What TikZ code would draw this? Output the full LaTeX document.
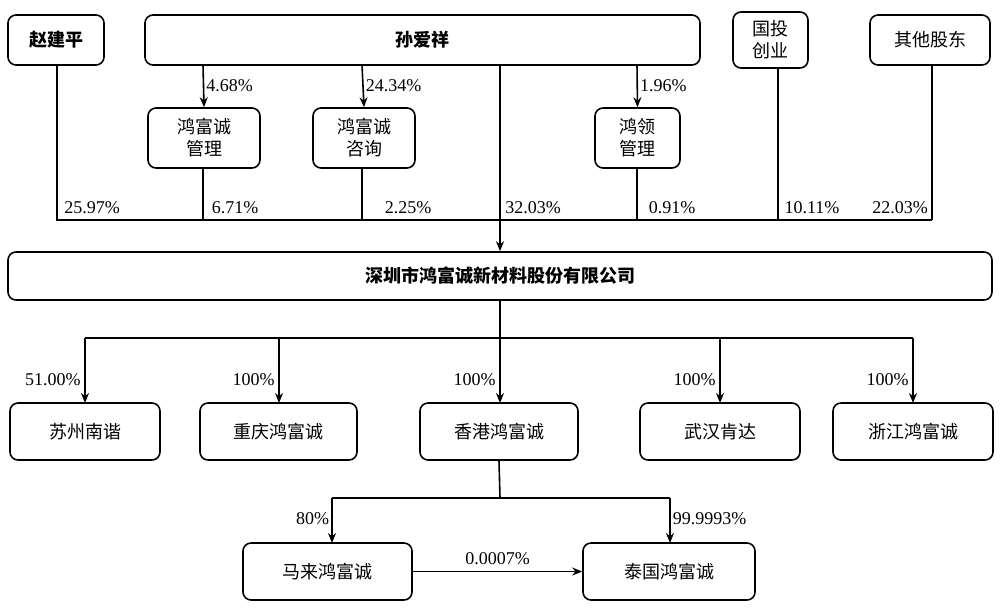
\documentclass[tikz,border=0pt]{standalone}
\usepackage{fontspec}
\setmainfont{Liberation Serif}
\newfontfamily\cjk{Noto Sans CJK SC}
\usetikzlibrary{arrows.meta}
\begin{document}
\begin{tikzpicture}[x=0.5pt,y=-0.5pt,
 box/.style={draw,rounded corners=4pt,line width=0.8pt,font=\cjk\fontsize{9}{11}\selectfont,align=center,inner sep=0pt},
 bbox/.style={box,font=\cjk\bfseries\fontsize{9}{11}\selectfont},
 ln/.style={line width=0.8pt},
 ar/.style={ln,-{Stealth[length=5pt,width=4pt]}},
 lab/.style={font=\fontsize{9}{11}\selectfont,inner sep=1pt}]
\useasboundingbox (0,0) rectangle (1000,612);
\def\bx#1#2#3#4#5#6#7{\node[#7,minimum width=#4*0.5pt-#2*0.5pt,minimum height=#5*0.5pt-#3*0.5pt] (#1) at ({(#2+#4)/2},{(#3+#5)/2}) {#6};}
\bx{zjp}{8}{15}{104}{65}{赵建平}{bbox}
\bx{say}{145}{15}{700}{65}{孙爱祥}{bbox}
\bx{gt}{733}{12}{808}{68}{国投\\创业}{box}
\bx{qt}{870}{15}{990}{65}{其他股东}{box}
\bx{gl}{148}{108}{260}{168}{鸿富诚\\管理}{box}
\bx{zx}{313}{108}{415}{168}{鸿富诚\\咨询}{box}
\bx{hl}{595}{108}{680}{168}{鸿领\\管理}{box}
\bx{main}{8}{252}{992}{300}{深圳市鸿富诚新材料股份有限公司}{bbox}
\bx{sz}{10}{403}{160}{460}{苏州南谐}{box}
\bx{cq}{200}{403}{357}{460}{重庆鸿富诚}{box}
\bx{hk}{420}{403}{578}{460}{香港鸿富诚}{box}
\bx{wh}{640}{403}{800}{460}{武汉肯达}{box}
\bx{zj}{833}{403}{993}{460}{浙江鸿富诚}{box}
\bx{ml}{243}{543}{412}{600}{马来鸿富诚}{box}
\bx{tg}{583}{543}{755}{600}{泰国鸿富诚}{box}
% top
\draw[ar] (203,65) -- (gl.north) node[lab,pos=0.5,right]{4.68\%};
\draw[ar] (362,65) -- (zx.north) node[lab,pos=0.5,right]{24.34\%};
\draw[ar] (637,65) -- (hl.north) node[lab,pos=0.5,right]{1.96\%};
\coordinate (j) at (500,220);
\draw[ln] (57,65) -- (57,220) -- (932,220);
\draw[ln] (203,168) -- (203,220);
\draw[ln] (362,168) -- (362,220);
\draw[ln] (637,168) -- (637,220);
\draw[ln] (778,68) -- (778,220);
\draw[ln] (932,65) -- (932,220);
\draw[ar] (500,65) -- (main.north);
\foreach \x/\t in {92/25.97\%,235/6.71\%,408/2.25\%,533/32.03\%,672/0.91\%,812/10.11\%,900/22.03\%}
 \node[lab] at (\x,208) {\t};
% bottom
\draw[ln] (main.south) -- (500,338);
\draw[ln] (85,338) -- (913,338);
\foreach \x/\n/\t in {85/sz/51.00\%,279/cq/100\%,500/hk/100\%,720/wh/100\%,913/zj/100\%}{
 \draw[ar] (\x,338) -- (\x,403);
 \node[lab,anchor=east] at (\x-2,380) {\t};}
\draw[ln] (hk.south) -- (500,498);
\draw[ln] (332,498) -- (670,498);
\draw[ar] (332,498) -- (332,543) node[lab,pos=0.45,left]{80\%};
\draw[ar] (670,498) -- (670,543) node[lab,pos=0.45,right]{99.9993\%};
\draw[ar] (ml.east) -- (tg.west) node[lab,midway,above=2pt]{0.0007\%};
\end{tikzpicture}
\end{document}
